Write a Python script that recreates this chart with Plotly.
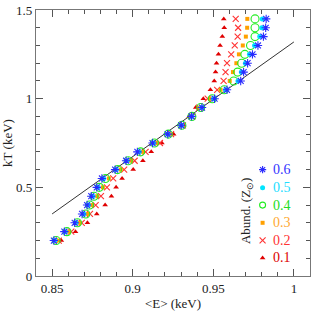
import plotly.graph_objects as go

kT = [0.20, 0.25, 0.30, 0.35, 0.40, 0.45, 0.50, 0.55, 0.60, 0.65, 0.70, 0.75, 0.80,
      0.85, 0.90, 0.95, 1.00, 1.05, 1.10, 1.15, 1.20, 1.25, 1.30, 1.35, 1.40, 1.45]

E_01 = [0.8557, 0.8645, 0.8719, 0.8777, 0.8829, 0.8868, 0.8897, 0.8934, 0.9003, 0.9063,
        0.9115, 0.9181, 0.9254, 0.9316, 0.9350, 0.9391, 0.9438, 0.9482, 0.9506, 0.9514,
        0.9520, 0.9532, 0.9542, 0.9556, 0.9568, 0.9565]
E_02 = [0.8541, 0.8619, 0.8684, 0.8735, 0.8770, 0.8803, 0.8840, 0.8879, 0.8947, 0.9012,
        0.9080, 0.9169, 0.9238, 0.9311, 0.9370, 0.9412, 0.9465, 0.9524, 0.9564, 0.9576,
        0.9585, 0.9611, 0.9633, 0.9651, 0.9654, 0.9639]
E_03 = [0.8531, 0.8603, 0.8670, 0.8721, 0.8748, 0.8780, 0.8815, 0.8852, 0.8926, 0.8990,
        0.9064, 0.9147, 0.9227, 0.9307, 0.9368, 0.9418, 0.9479, 0.9545, 0.9602, 0.9622,
        0.9643, 0.9659, 0.9683, 0.9702, 0.9710, 0.9711]
E_04 = [0.8525, 0.8592, 0.8657, 0.8709, 0.8732, 0.8760, 0.8793, 0.8831, 0.8906, 0.8972,
        0.9049, 0.9135, 0.9221, 0.9305, 0.9367, 0.9422, 0.9494, 0.9568, 0.9627, 0.9651,
        0.9676, 0.9696, 0.9731, 0.9759, 0.9759, 0.9759]
E_05 = [0.8517, 0.8582, 0.8648, 0.8697, 0.8725, 0.8753, 0.8785, 0.8820, 0.8898, 0.8965,
        0.9040, 0.9129, 0.9219, 0.9303, 0.9366, 0.9427, 0.9501, 0.9576, 0.9653, 0.9674,
        0.9699, 0.9724, 0.9756, 0.9788, 0.9801, 0.9804]
E_06 = [0.8511, 0.8576, 0.8640, 0.8686, 0.8717, 0.8743, 0.8777, 0.8809, 0.8891, 0.8959,
        0.9029, 0.9123, 0.9217, 0.9301, 0.9365, 0.9430, 0.9508, 0.9585, 0.9670, 0.9688,
        0.9713, 0.9743, 0.9777, 0.9811, 0.9825, 0.9828]

line_E = [0.85, 1.00]
line_kT = [0.35, 1.32]

abund_labels = ["0.1", "0.2", "0.3", "0.4", "0.5", "0.6"]
series_E = [E_01, E_02, E_03, E_04, E_05, E_06]

y_tickvals = [0, 0.5, 1, 1.5]
y_ticktext = ["0", "0.5", "1", "1.5"]
x_tickvals = [0.85, 0.9, 0.95, 1.0]
x_ticktext = ["0.85", "0.9", "0.95", "1"]

colors = ["#e00000", "#ff3333", "#ffa000", "#22ee22", "#00e5ff", "#2a2aff"]
symbols = ["triangle-up", "x-thin-open", "square", "circle-open", "circle", "asterisk-open"]
sizes = [5, 6, 4, 8, 5, 7]
linew = [0, 1.1, 0, 1.1, 0, 1.1]
leg_sizes = [5, 6, 4, 6, 5, 6]
text_colors = ["#dd0000", "#ff3333", "#ffaa33", "#22dd22", "#22ddff", "#3333ff"]

X_RANGE = [0.84, 1.01]
Y_RANGE = [0.0, 1.5001]
SERIF = "Liberation Serif"


def fx(f):
    return X_RANGE[0] + f * (X_RANGE[1] - X_RANGE[0])


def fy(f):
    return Y_RANGE[0] + f * (Y_RANGE[1] - Y_RANGE[0])


fig = go.Figure()

fig.add_trace(go.Scatter(x=line_E, y=line_kT, mode="lines",
                         line=dict(color="#333333", width=1), showlegend=False))

for lab, E, c, s, sz, lw in zip(abund_labels, series_E, colors, symbols, sizes, linew):
    fig.add_trace(go.Scatter(
        x=E, y=kT, mode="markers", name=lab, showlegend=False,
        marker=dict(symbol=s, size=sz, color=c, line=dict(color=c, width=lw))))

# manual legend placed by plot-area fractions
leg_x_sym = 0.827
leg_x_txt = 0.858
leg_y = [0.068, 0.134, 0.200, 0.2665, 0.332, 0.400]
for lab, c, s, sz, lw, tc, yy in zip(abund_labels, colors, symbols, leg_sizes, linew, text_colors, leg_y):
    fig.add_trace(go.Scatter(
        x=[fx(leg_x_sym)], y=[fy(yy)], mode="markers", showlegend=False, hoverinfo="skip",
        marker=dict(symbol=s, size=sz, color=c, line=dict(color=c, width=lw))))
    fig.add_annotation(x=leg_x_txt, y=yy, xref="x domain", yref="y domain", text=lab,
                       showarrow=False, xanchor="left", yanchor="middle",
                       font=dict(family=SERIF, size=14, color=tc))

fig.add_annotation(x=0.771, y=0.245, xref="x domain", yref="y domain",
                   text="Abund. (Z<sub>⊙</sub>)",
                   showarrow=False, textangle=-90, xanchor="center", yanchor="middle",
                   font=dict(family=SERIF, size=13, color="#222222"))

axcommon = dict(showgrid=False, zeroline=False, showline=True, linecolor="#777777",
                linewidth=1.2, mirror="allticks", ticks="inside", ticklen=7,
                tickcolor="#555555", tickwidth=1, ticklabeloverflow="allow",
                tickfont=dict(family=SERIF, size=13, color="#222222"))

fig.update_layout(
    width=314, height=312,
    margin=dict(l=35, r=3, t=7, b=36),
    paper_bgcolor="white", plot_bgcolor="white",
    showlegend=False,
    xaxis=dict(range=X_RANGE, tickvals=x_tickvals, ticktext=x_ticktext,
               minor=dict(dtick=0.01, tick0=0.84, ticklen=4, ticks="inside", tickcolor="#555555"),
               title=dict(text="&lt;E&gt; (keV)", font=dict(family=SERIF, size=13, color="#222222"),
                          standoff=4),
               **axcommon),
    yaxis=dict(range=Y_RANGE, tickvals=y_tickvals, ticktext=y_ticktext,
               minor=dict(dtick=0.1, tick0=0, ticklen=4, ticks="inside", tickcolor="#555555"),
               title=dict(text="kT (keV)", font=dict(family=SERIF, size=13, color="#222222"),
                          standoff=4),
               **axcommon),
)

fig.write_html("out.html", config={"displayModeBar": False},
               post_script="document.body.style.margin='0';document.body.style.overflow='hidden';")
